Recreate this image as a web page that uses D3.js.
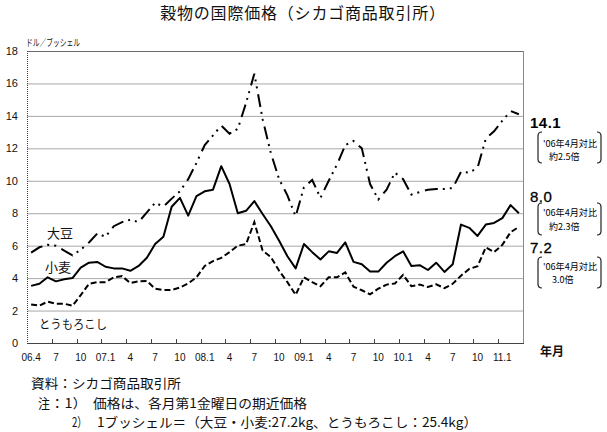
<!DOCTYPE html>
<html><head><meta charset="utf-8">
<script src="https://cdn.jsdelivr.net/npm/d3@7/dist/d3.min.js"></script>
<style>body{margin:0;background:#fff} svg{display:block}</style>
</head><body>
<script>
const months = ["06.4","06.5","06.6","06.7","06.8","06.9","06.10","06.11","06.12",
 "07.1","07.2","07.3","07.4","07.5","07.6","07.7","07.8","07.9","07.10","07.11","07.12",
 "08.1","08.2","08.3","08.4","08.5","08.6","08.7","08.8","08.9","08.10","08.11","08.12",
 "09.1","09.2","09.3","09.4","09.5","09.6","09.7","09.8","09.9","09.10","09.11","09.12",
 "10.1","10.2","10.3","10.4","10.5","10.6","10.7","10.8","10.9","10.10","10.11","10.12",
 "11.1","11.2","11.3"];
const xTickLabels = ["06.4","7","10","07.1","4","7","10","08.1","4","7","10","09.1","4","7","10","10.1","4","7","10","11.1"];
const yTicks = [0,2,4,6,8,10,12,14,16,18];
const soybean = [5.57,5.9,6.05,6.0,5.7,5.4,5.75,6.2,6.75,6.55,7.2,7.45,7.6,7.45,8.05,8.65,8.4,8.9,9.35,10.1,
 11.1,12.2,12.8,13.4,12.9,13.2,14.8,16.6,13.8,11.7,10.1,9.1,7.8,9.6,10.05,8.95,10.0,11.0,12.2,12.45,
 12.0,9.8,8.85,9.45,10.5,10.1,9.15,9.3,9.45,9.5,9.5,9.55,10.55,10.5,10.8,12.6,13.05,13.7,14.3,14.1];
const wheat = [3.52,3.65,4.05,3.8,3.93,4.0,4.65,4.95,5.0,4.7,4.6,4.6,4.45,4.75,5.25,6.1,6.55,8.4,8.95,7.85,
 9.05,9.35,9.45,10.9,9.8,8.0,8.15,8.75,7.95,7.2,6.3,5.35,4.6,6.1,5.6,5.15,5.65,5.55,6.2,5.0,
 4.85,4.4,4.4,4.95,5.35,5.65,4.75,4.8,4.5,4.95,4.38,4.85,7.3,7.1,6.6,7.3,7.4,7.7,8.5,8.0];
const corn = [2.38,2.3,2.55,2.42,2.42,2.3,2.95,3.65,3.75,3.75,4.05,4.12,3.7,3.8,3.82,3.35,3.27,3.27,3.42,3.67,
 4.05,4.75,5.05,5.25,5.6,6.0,6.1,7.45,5.7,5.3,4.45,3.75,2.97,4.05,3.75,3.5,4.05,4.05,4.35,3.47,
 3.25,3.0,3.35,3.6,3.67,4.2,3.5,3.6,3.45,3.62,3.38,3.65,4.15,4.57,4.73,5.9,5.6,6.05,6.83,7.16];

const W=607,H=432;
const jp = "'Noto Sans CJK JP', sans-serif";
const lat = "'Liberation Sans', Arial, sans-serif";
const svg = d3.select("body").append("svg").attr("width",W).attr("height",H).style("background","#fff");
const x = d3.scaleBand().domain(months).range([27,523]).padding(0);
const y = d3.scaleLinear().domain([0,18]).range([343,51]);
const cx = i => x(months[i]) + x.bandwidth()/2;

// title
svg.append("text").attr("x",303).attr("y",19).attr("text-anchor","middle")
  .attr("font-family",jp).attr("font-size",16).attr("letter-spacing",0.8).attr("fill","#111")
  .text("穀物の国際価格（シカゴ商品取引所）");
svg.append("text").attr("x",26).attr("y",46).attr("font-family",jp).attr("font-size",9.5)
  .attr("textLength",54).attr("lengthAdjust","spacingAndGlyphs").attr("fill","#111").text("ドル／ブッシェル");

// gridlines
svg.append("g").selectAll("line").data(yTicks.filter(d=>d>0&&d<18)).join("line")
  .attr("x1",27).attr("x2",523).attr("y1",d=>y(d)+0.5).attr("y2",d=>y(d)+0.5)
  .attr("stroke","#a8a8a8").attr("stroke-width",1);
// frame
svg.append("line").attr("x1",27).attr("x2",523).attr("y1",y(18)+0.5).attr("y2",y(18)+0.5).attr("stroke","#6a6a6a");
svg.append("line").attr("x1",523.5).attr("x2",523.5).attr("y1",y(18)).attr("y2",y(0)).attr("stroke","#8a8a8a");
svg.append("line").attr("x1",27.5).attr("x2",27.5).attr("y1",y(18)).attr("y2",y(0)).attr("stroke","#444").attr("stroke-dasharray","1,1");
svg.append("line").attr("x1",27).attr("x2",524).attr("y1",y(0)+0.5).attr("y2",y(0)+0.5).attr("stroke","#444");

// y labels
svg.append("g").selectAll("text").data(yTicks).join("text")
  .attr("x",18).attr("y",d=>y(d)+4).attr("text-anchor","end")
  .attr("font-family",lat).attr("font-size",11).attr("fill","#111").text(d=>d);

// x ticks at category boundaries every 3 months
const tickIdx = d3.range(3,60,3);
svg.append("g").selectAll("line").data(tickIdx).join("line")
  .attr("x1",i=>Math.round(x(months[i]))+0.5).attr("x2",i=>Math.round(x(months[i]))+0.5)
  .attr("y1",y(0)-4).attr("y2",y(0)).attr("stroke","#444");
svg.append("g").selectAll("text").data(xTickLabels).join("text")
  .attr("x",(d,k)=>cx(k*3)).attr("y",361).attr("text-anchor","middle")
  .attr("font-family",lat).attr("font-size",10).attr("fill","#111").text(d=>d);
svg.append("text").attr("x",540).attr("y",356).attr("font-family",jp).attr("font-size",12)
  .attr("font-weight","bold").attr("fill","#111").text("年月");

// series
const line = d3.line().x((d,i)=>cx(i)).y(d=>y(d));
svg.append("path").datum(corn).attr("d",line).attr("fill","none").attr("stroke","#000")
  .attr("stroke-width",2).attr("stroke-dasharray","6,3");
svg.append("path").datum(wheat).attr("d",line).attr("fill","none").attr("stroke","#000")
  .attr("stroke-width",2).attr("stroke-linejoin","round");
svg.append("path").datum(soybean).attr("d",line).attr("fill","none").attr("stroke","#000")
  .attr("stroke-width",2).attr("stroke-dasharray","13,5,2,5,2,6");

// series labels
const lab = (t,xx,yy,fs)=>svg.append("text").attr("x",xx).attr("y",yy).attr("font-family",jp)
  .attr("font-size",fs).attr("fill","#111").text(t);
lab("大豆",47,238,13);
lab("小麦",45,272,13);
lab("とうもろこし",39,329,12).attr("textLength",68).attr("lengthAdjust","spacingAndGlyphs");

// right annotations
const endVals = [soybean[59], wheat[59], corn[59]];
const ann = [
  {v:endVals[0], ty:128, bold:true, b0:132, b1:163, l1:147, l2:160, t2:"約2.5倍", x2:549},
  {v:endVals[1], ty:202, bold:false, b0:203, b1:235, l1:216, l2:230, t2:"約2.3倍", x2:549},
  {v:endVals[2], ty:253, bold:false, b0:257, b1:288, l1:270, l2:283, t2:"3.0倍", x2:552}
];
ann.forEach(a=>{
  svg.append("text").attr("x",530).attr("y",a.ty).attr("font-family",lat).attr("font-size",15)
    .attr("font-weight",a.bold?"bold":"normal").attr("letter-spacing",0.5).attr("fill","#000")
    .attr("stroke",a.bold?"none":"#000").attr("stroke-width",0.3).text(d3.format(".1f")(a.v));
  const r=4;
  svg.append("path").attr("d",`M${542},${a.b0} Q${538},${a.b0} ${538},${a.b0+r} L${538},${a.b1-r} Q${538},${a.b1} ${542},${a.b1}`)
    .attr("fill","none").attr("stroke","#222").attr("stroke-width",1.2);
  svg.append("path").attr("d",`M${597},${a.b0} Q${601},${a.b0} ${601},${a.b0+r} L${601},${a.b1-r} Q${601},${a.b1} ${597},${a.b1}`)
    .attr("fill","none").attr("stroke","#222").attr("stroke-width",1.2);
  svg.append("text").attr("x",543).attr("y",a.l1).attr("font-family",jp).attr("font-size",9)
    .attr("textLength",54).attr("lengthAdjust","spacingAndGlyphs").attr("fill","#000").text("'06年4月対比");
  svg.append("text").attr("x",a.x2).attr("y",a.l2).attr("font-family",jp).attr("font-size",9)
    .attr("fill","#000").text(a.t2);
});

// footnotes
const fn = (t,xx,yy,len)=>svg.append("text").attr("x",xx).attr("y",yy).attr("font-family",jp)
  .attr("font-size",13).attr("fill","#111").attr("textLength",len).attr("lengthAdjust","spacingAndGlyphs").text(t);
fn("資料：シカゴ商品取引所",31,388,150);
fn("注",38,408,12);
fn("：1）",50,408,37);
fn("価格は、各月第1金曜日の期近価格",93,408,214);
fn("2）",72,427,15);
fn("1ブッシェル＝（大豆・小麦:27.2kg、とうもろこし：25.4kg）",97,427,380);
</script>
</body></html>
